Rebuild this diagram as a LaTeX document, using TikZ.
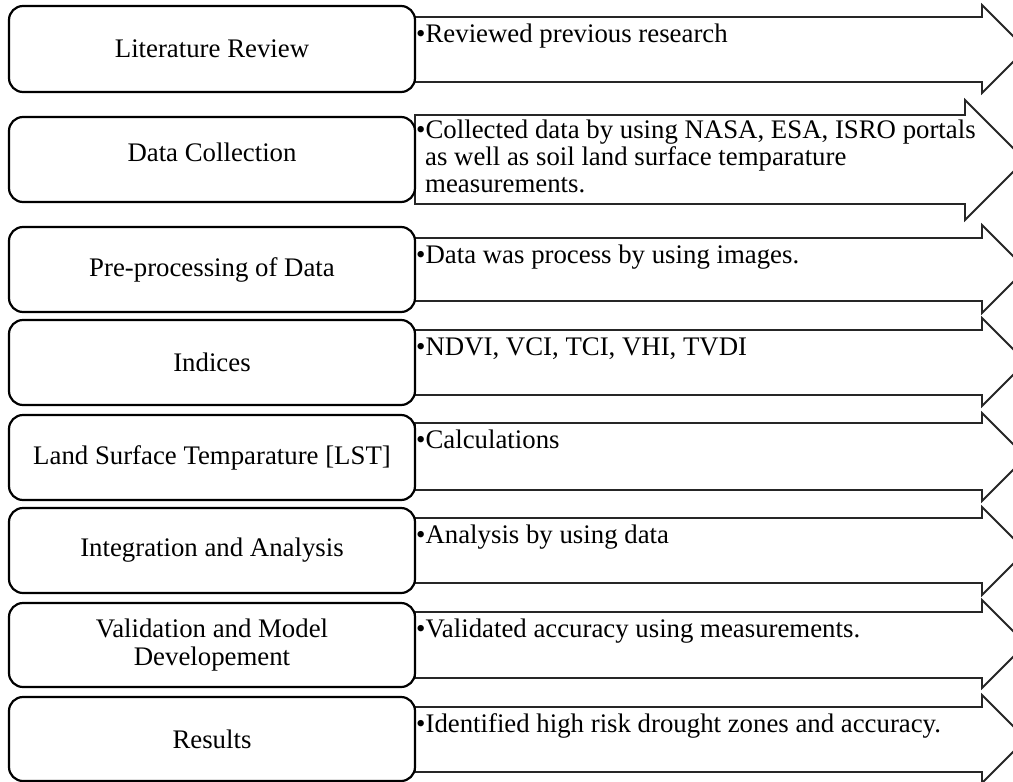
\documentclass[tikz,border=0pt]{standalone}
\usepackage{fontspec}
\setmainfont{Liberation Serif}
\begin{document}
\begin{tikzpicture}[x=1pt,y=-1pt,
  box/.style={draw=black,line width=2.2pt,rounded corners=14pt,fill=white,minimum width=406pt,inner sep=0pt,align=center,font=\fontsize{26.8}{28}\selectfont},
  arrowshape/.style={draw=black!85,line width=1.8pt,fill=white,line join=miter},
  lbl/.style={inner sep=0pt,align=center,font=\fontsize{26.8}{28}\selectfont},
  txt/.style={anchor=base west,inner sep=0pt,font=\fontsize{26.8}{28}\selectfont}]
\useasboundingbox (0,0) rectangle (1013,782);
\clip (0,0) rectangle (1013,782);
% arrows (body top, body bottom, head top, head bottom, head base x)
\draw[arrowshape] (415,17) -- (982,17) -- (982,5) -- (1026,49) -- (982,93) -- (982,82) -- (415,82) -- cycle;
\draw[arrowshape] (415,115) -- (965,115) -- (965,100) -- (1025,160) -- (965,220) -- (965,204) -- (415,204) -- cycle;
\draw[arrowshape] (415,238) -- (982,238) -- (982,225) -- (1026,269) -- (982,313) -- (982,301) -- (415,301) -- cycle;
\draw[arrowshape] (415,330) -- (982,330) -- (982,318) -- (1026,362) -- (982,406) -- (982,395) -- (415,395) -- cycle;
\draw[arrowshape] (415,423) -- (982,423) -- (982,413) -- (1026,457) -- (982,501) -- (982,490) -- (415,490) -- cycle;
\draw[arrowshape] (415,518) -- (982,518) -- (982,507) -- (1026,551) -- (982,595) -- (982,583) -- (415,583) -- cycle;
\draw[arrowshape] (415,612) -- (982,612) -- (982,600) -- (1026,644) -- (982,688) -- (982,678) -- (415,678) -- cycle;
\draw[arrowshape] (415,707) -- (982,707) -- (982,695) -- (1026,739) -- (982,783) -- (982,772) -- (415,772) -- cycle;
% boxes
\node[box,minimum height=86pt] (b1) at (212,49) {Literature Review};
\node[box,minimum height=85pt] (b2) at (212,159.5) {};
\node[lbl] (l2) at (212,152) {Data Collection};
\node[box,minimum height=85pt] (b3) at (212,269.5) {Pre-processing of Data};
\node[box,minimum height=85pt] (b4) at (212,362.5) {Indices};
\node[box,minimum height=85pt] (b5) at (212,457.5) {Land Surface Temparature [LST]};
\node[box,minimum height=85pt] (b6) at (212,550.5) {Integration and Analysis};
\node[box,minimum height=84pt] (b7) at (212,645) {Validation and Model\\Developement};
\node[box,minimum height=84pt] (b8) at (212,739) {Results};
% arrow texts
\node[txt] (t1) at (416,42) {\textbullet Reviewed previous research};
\node[txt] (t2a) at (416,138) {\textbullet Collected data by using NASA, ESA, ISRO portals};
\node[txt] (t2b) at (425,165) {as well as soil land surface temparature};
\node[txt] (t2c) at (425,192) {measurements.};
\node[txt] (t3) at (416,263) {\textbullet Data was process by using images.};
\node[txt] (t4) at (416,355) {\textbullet NDVI, VCI, TCI, VHI, TVDI};
\node[txt] (t5) at (416,448) {\textbullet Calculations};
\node[txt] (t6) at (416,543) {\textbullet Analysis by using data};
\node[txt] (t7) at (416,637) {\textbullet Validated accuracy using measurements.};
\node[txt] (t8) at (416,732) {\textbullet Identified high risk drought zones and accuracy.};
\end{tikzpicture}
\end{document}
